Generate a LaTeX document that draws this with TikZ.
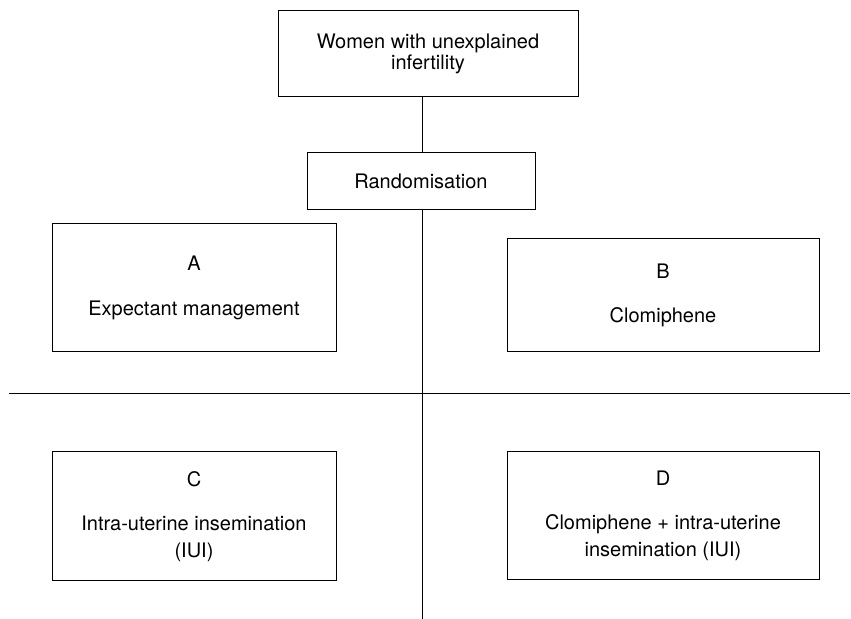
\documentclass[tikz,border=0pt]{standalone}
\usepackage{fontspec}
\setmainfont{TeX Gyre Heros}
\usepackage{tikz}

\begin{document}
\begin{tikzpicture}[x=0.5pt, y=-0.5pt,
    box/.style={draw, line width=0.5pt, inner sep=0pt, align=center,
      font=\fontsize{10}{13.5}\selectfont},
    link/.style={line width=0.5pt}]
  \useasboundingbox (0,0) rectangle (851,619);

  % Population and randomisation
  \node[box, minimum width=150pt, minimum height=43pt,
    font=\fontsize{10}{10.8}\selectfont] (women) at (428,54)
    {Women with unexplained\\infertility};
  \node[box, minimum width=114pt, minimum height=28.5pt] (rand) at (421,181.5)
    {Randomisation};

  % Arms
  \node[box, minimum width=142pt, minimum height=64pt] (armA) at (194,288)
    {A\\[9pt]Expectant management};
  \node[box, minimum width=156pt, minimum height=56.5pt] (armB) at (663,295.5)
    {B\\[8.5pt]Clomiphene};
  \node[box, minimum width=142pt, minimum height=64.5pt] (armC) at (194,516.5)
    {C\\[8.5pt]Intra-uterine insemination\\(IUI)};
  \node[box, minimum width=156pt, minimum height=64pt] (armD) at (663,516)
    {D\\[8.5pt]Clomiphene + intra-uterine\\insemination (IUI)};

  % Dividing lines
  \coordinate (bottom) at (422,619);
  \coordinate (west) at (9,394);
  \coordinate (east) at (850,394);
  \draw[link] (rand.north -| bottom) -- (women.south -| bottom);
  \draw[link] (rand.south -| bottom) -- (bottom);
  \draw[link] (west) -- (east);
\end{tikzpicture}
\end{document}
